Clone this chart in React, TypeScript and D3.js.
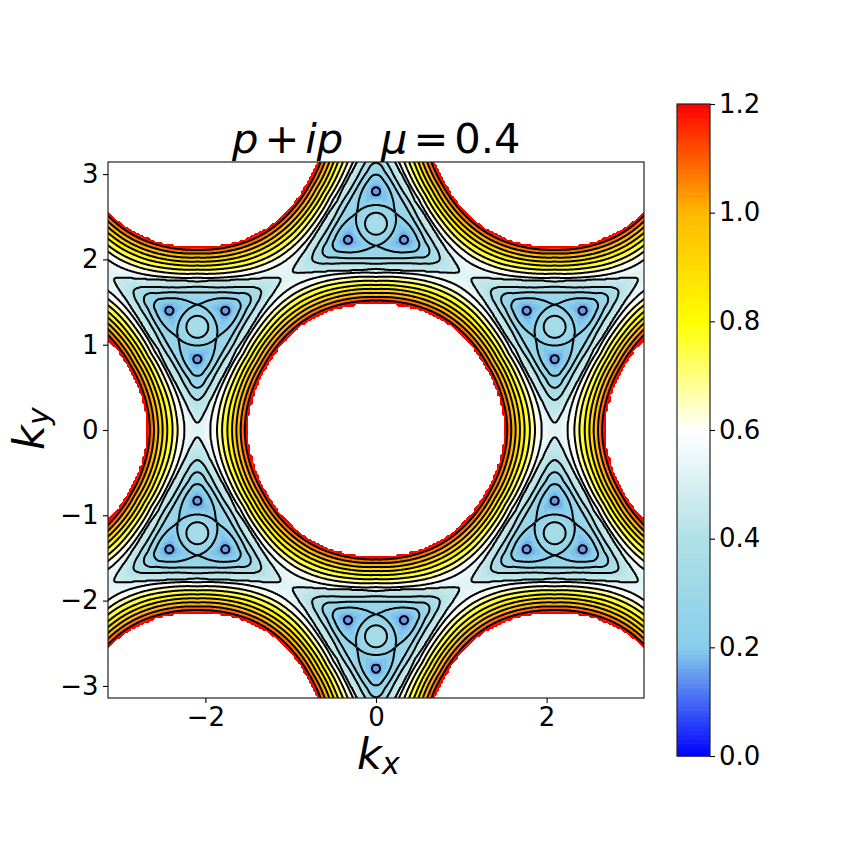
import React, { useEffect, useMemo, useRef } from 'react';
import * as d3 from 'd3';

// contour levels drawn in black
const contourLevels = [0.16, 0.24, 0.32, 0.4, 0.48, 0.56, 0.64, 0.72, 0.8, 0.88, 0.96, 1.04, 1.12];

// colour map stops
const colorStops = [0, 0.2, 0.4, 0.6, 0.8, 1.0, 1.2];
const colorNames = ['#0000ff', '#87ceeb', '#b0e0e6', '#ffffff', '#ffff00', '#ffb800', '#ff0000'];

// ticks
const xTicks = [-2, 0, 2];
const yTicks = [-3, -2, -1, 0, 1, 2, 3];
const barTicks = [0, 0.2, 0.4, 0.6, 0.8, 1.0, 1.2];

// level curves around a hole: k-radius read at each angle (deg from the M direction)
// the first row is the edge of the white hole, values above the colour range are masked
const maskLevel = 1.28;
const holeAngles = [0, 5, 10, 20, 30];
const holeLevels = [maskLevel, 1.2, 1.12, 1.04, 0.96, 0.88, 0.8, 0.72, 0.64, 0.56, 0.52];
const holeRadii = [
  [1.497, 1.496, 1.492, 1.482, 1.477],
  [1.512, 1.511, 1.507, 1.497, 1.49],
  [1.536, 1.535, 1.531, 1.522, 1.515],
  [1.586, 1.584, 1.58, 1.569, 1.559],
  [1.637, 1.634, 1.63, 1.618, 1.606],
  [1.687, 1.685, 1.68, 1.665, 1.653],
  [1.742, 1.739, 1.733, 1.712, 1.7],
  [1.804, 1.8, 1.791, 1.764, 1.747],
  [1.863, 1.857, 1.846, 1.815, 1.794],
  [1.941, 1.932, 1.911, 1.866, 1.841],
  [2.094, 2.022, 1.967, 1.895, 1.866],
];

// level curves around a pocket: k-distance from the pocket centre (deg from the M direction)
const pocketAngles = [0, 5, 10, 20, 30, 40, 50, 60];
const petalInner = [0.219, 0.219, 0.22, 0.223, 0.23, 0.239, 0.25, 0.26];
const petalOuter = [0.574, 0.561, 0.516, 0.44, 0.375, 0.322, 0.281, 0.26];
const pocketLevels = [0.24, 0.32, 0.4, 0.48];
const pocketRadii = [
  petalOuter,
  [0.715, 0.686, 0.615, 0.528, 0.467, 0.43, 0.41, 0.404],
  [0.856, 0.809, 0.727, 0.604, 0.533, 0.492, 0.475, 0.469],
  [1.125, 1.008, 0.879, 0.735, 0.645, 0.586, 0.547, 0.528],
];

// pocket details
const centerValue = 0.36;
const centerRing = 0.129;
const dotDistance = 0.379;
const dotRing = 0.047;
const dotValue = 0.14;

const W = 864;
const plot = { left: 108, right: 644, top: 162, bottom: 698 };
const bar = { left: 677, right: 710, top: 104, bottom: 756 };
const PI = Math.PI;
const ax = (4 * PI) / 3;
const ay = (4 * PI) / Math.sqrt(3);
const Kx = ax / 2;
const Ky = ay / 6;

const color = d3.scaleLinear<string>().domain(colorStops).range(colorNames).clamp(true);

// piecewise cubic through the read values, flat at the first angle
function curve(knots: number[], vals: number[]) {
  const n = knots.length;
  const m = vals.map((v, i) => {
    if (i === 0) return 0;
    if (i === n - 1) return (v - vals[i - 1]) / (knots[i] - knots[i - 1]);
    return (vals[i + 1] - vals[i - 1]) / (knots[i + 1] - knots[i - 1]);
  });
  return (a: number) => {
    const c = Math.max(knots[0], Math.min(knots[n - 1], a));
    let i = 0;
    while (i < n - 2 && c > knots[i + 1]) i++;
    const h = knots[i + 1] - knots[i];
    const t = (c - knots[i]) / h;
    const t2 = t * t;
    const t3 = t2 * t;
    return (2 * t3 - 3 * t2 + 1) * vals[i] + (t3 - 2 * t2 + t) * h * m[i] +
      (-2 * t3 + 3 * t2) * vals[i + 1] + (t3 - t2) * h * m[i + 1];
  };
}

const holeCurves = holeRadii.map((r) => curve(holeAngles, r));
const pocketCurves = pocketRadii.map((r) => curve(pocketAngles, r));
const innerCurve = curve(pocketAngles, petalInner);
const outerCurve = curve(pocketAngles, petalOuter);
const splitCurve = holeCurves[holeCurves.length - 1];
const splitLevel = holeLevels[holeLevels.length - 1];

// where the level through M meets each ray from the pocket centre
const splitByAngle = d3.range(0, 60.01, 0.25).map((deg) => {
  const a = (deg * PI) / 180;
  const end = Ky / Math.cos(a);
  for (let p = 0.05; p < end; p += 0.002) {
    const x = Kx - p * Math.sin(a);
    const y = Ky - p * Math.cos(a);
    if (Math.hypot(x, y) < splitCurve((Math.atan2(y, x) * 180) / PI)) return p;
  }
  return end;
});

function petalValue(rho: number, phi: number) {
  const a = (phi * PI) / 180;
  const dx = rho * Math.sin(a);
  const dy = rho * Math.cos(a) - dotDistance;
  const d = Math.hypot(dx, dy);
  if (d < dotRing) return dotValue + (0.16 - dotValue) * (d / dotRing) ** 2;
  const ux = dx / d;
  const uy = dy / d;
  let lo = d;
  let hi = 0.9;
  for (let i = 0; i < 11; i++) {
    const t = (lo + hi) / 2;
    const px = ux * t;
    const py = dotDistance + uy * t;
    const q = Math.hypot(px, py);
    const f = (Math.atan2(px, py) * 180) / PI;
    if (f <= 60 && q > innerCurve(f) && q < outerCurve(f)) lo = t;
    else hi = t;
  }
  const s = Math.min(1, (d - dotRing) / Math.max(1e-6, hi - dotRing));
  return 0.16 + 0.08 * s;
}

function field(kx: number, ky: number) {
  // fold into one triangle Gamma-M-K of the lattice
  let x = Math.abs(kx) % ax;
  let y = Math.abs(ky) % ay;
  if (x > ax / 2) x = ax - x;
  if (y > ay / 2) y = ay - y;
  if (x * x + y * y > (ax / 2 - x) ** 2 + (ay / 2 - y) ** 2) {
    x = ax / 2 - x;
    y = ay / 2 - y;
  }
  const r = Math.hypot(x, y);
  let th = (Math.atan2(y, x) * 180) / PI;
  if (th > 60) th -= 60;
  if (th > 30) th = 60 - th;

  const split = splitCurve(th);
  if (r < split) {
    let prevR = split;
    let prevV = splitLevel;
    for (let i = holeLevels.length - 2; i >= 0; i--) {
      const ring = holeCurves[i](th);
      if (r >= ring) return holeLevels[i] + ((prevV - holeLevels[i]) * (r - ring)) / (prevR - ring);
      prevR = ring;
      prevV = holeLevels[i];
    }
    return maskLevel + 0.1;
  }

  const t = (th * PI) / 180;
  const dx = r * Math.cos(t) - Kx;
  const dy = r * Math.sin(t) - Ky;
  const rho = Math.hypot(dx, dy);
  const phi = Math.max(0, Math.min(60, (Math.atan2(-dx, -dy) * 180) / PI));
  const inner = innerCurve(phi);
  if (rho <= inner) {
    if (rho < centerRing) return centerValue - (centerValue - 0.32) * (rho / centerRing) ** 2;
    return 0.32 - (0.08 * (rho - centerRing)) / (inner - centerRing);
  }
  const outer = outerCurve(phi);
  if (rho < outer) return petalValue(rho, phi);
  const end = splitByAngle[Math.round(phi * 4)];
  let prevR = outer;
  let prevV = 0.24;
  for (let i = 1; i <= pocketLevels.length; i++) {
    const ring = i < pocketLevels.length ? Math.min(pocketCurves[i](phi), end - 0.001) : Math.max(end, prevR + 0.001);
    const v = i < pocketLevels.length ? pocketLevels[i] : splitLevel;
    if (rho <= ring) return prevV + ((v - prevV) * (rho - prevR)) / (ring - prevR);
    prevR = ring;
    prevV = v;
  }
  return splitLevel;
}

function sample(n: number, lo: number, hi: number) {
  const values = new Float64Array(n * n);
  const step = (hi - lo) / n;
  for (let j = 0; j < n; j++) {
    const ky = hi - (j + 0.5) * step;
    for (let i = 0; i < n; i++) values[j * n + i] = field(lo + (i + 0.5) * step, ky);
  }
  return values;
}

export default function App() {
  const xAxisRef = useRef<SVGGElement>(null);
  const yAxisRef = useRef<SVGGElement>(null);
  const barAxisRef = useRef<SVGGElement>(null);

  const x = d3.scaleLinear().domain([-PI, PI]).range([plot.left, plot.right]);
  const y = d3.scaleLinear().domain([-PI, PI]).range([plot.bottom, plot.top]);
  const barY = d3.scaleLinear().domain([0, 1.2]).range([bar.bottom, bar.top]);

  const { fills, lines } = useMemo(() => {
    // coarse stepped grid for the colours, like the original mesh
    const nFill = 256;
    const fillValues = sample(nFill, -PI, PI);
    const fillCell = d3.scaleLinear().domain([0, nFill]).range([-PI, PI]);
    const fillPath = d3.geoPath(
      d3.geoTransform({
        point(px, py) {
          this.stream.point(+x(fillCell(px)).toFixed(1), +y(-fillCell(py)).toFixed(1));
        },
      })
    );
    const fillGen = d3.contours().size([nFill, nFill]).smooth(false);
    const bands = d3.range(0.12, 1.21, 0.02).map((t) => ({
      d: fillPath(fillGen.contour(fillValues as any, t)) || '',
      fill: color(t + 0.01),
    }));
    bands.push({ d: fillPath(fillGen.contour(fillValues as any, maskLevel)) || '', fill: '#ffffff' });

    // finer grid running past the frame for the black lines
    const margin = 0.12;
    const nLine = 620;
    const lineValues = sample(nLine, -PI - margin, PI + margin);
    const lineCell = d3.scaleLinear().domain([0, nLine]).range([-PI - margin, PI + margin]);
    const linePath = d3.geoPath(
      d3.geoTransform({
        point(px, py) {
          this.stream.point(+x(lineCell(px)).toFixed(2), +y(-lineCell(py)).toFixed(2));
        },
      })
    );
    const lineGen = d3.contours().size([nLine, nLine]);
    const paths = contourLevels.map((t) => linePath(lineGen.contour(lineValues as any, t)) || '');
    return { fills: bands, lines: paths };
  }, []);

  useEffect(() => {
    const style = (g: d3.Selection<any, any, any, any>) => {
      g.selectAll('text').attr('font-family', 'DejaVu Sans').attr('font-size', 26).attr('fill', '#000');
      g.selectAll('line').attr('stroke', '#000').attr('stroke-width', 1.1);
      g.select('.domain').remove();
    };
    d3.select(xAxisRef.current)
      .call(d3.axisBottom(x).tickValues(xTicks).tickSize(5).tickPadding(4.5).tickFormat(d3.format('d')) as any)
      .call(style);
    d3.select(yAxisRef.current)
      .call(d3.axisLeft(y).tickValues(yTicks).tickSize(5).tickPadding(4.5).tickFormat(d3.format('d')) as any)
      .call(style);
    d3.select(barAxisRef.current)
      .call(d3.axisRight(barY).tickValues(barTicks).tickSize(5).tickPadding(4).tickFormat(d3.format('.1f')) as any)
      .call(style);
  }, []);

  const barSteps = d3.range(0, 1.2, 1.2 / 256);

  return (
    <svg width={W} height={W} style={{ position: 'absolute', left: 0, top: 0, display: 'block', background: '#fff' }}>
      <defs>
        <clipPath id="plot-clip">
          <rect x={plot.left} y={plot.top} width={plot.right - plot.left} height={plot.bottom - plot.top} />
        </clipPath>
      </defs>

      <g clipPath="url(#plot-clip)">
        {fills.map((b, i) => (
          <path key={i} d={b.d} fill={b.fill} shapeRendering="crispEdges" />
        ))}
        {lines.map((d, i) => (
          <path key={i} d={d} fill="none" stroke="#000" strokeWidth={2} />
        ))}
      </g>
      <rect x={plot.left} y={plot.top} width={plot.right - plot.left} height={plot.bottom - plot.top}
        fill="none" stroke="#222" strokeWidth={1.2} />
      <g ref={xAxisRef} transform={`translate(0,${plot.bottom})`} />
      <g ref={yAxisRef} transform={`translate(${plot.left},0)`} />

      {barSteps.map((v, i) => (
        <rect key={i} x={bar.left} width={bar.right - bar.left} y={barY(v + 1.2 / 256)}
          height={barY(v) - barY(v + 1.2 / 256) + 0.6} fill={color(v + 0.6 / 256)} />
      ))}
      <rect x={bar.left} y={bar.top} width={bar.right - bar.left} height={bar.bottom - bar.top}
        fill="none" stroke="#222" strokeWidth={1.2} />
      <g ref={barAxisRef} transform={`translate(${bar.right},0)`} />

      <text y={153} fontFamily="DejaVu Sans" fontSize={41.6} fill="#000">
        <tspan x={232} fontStyle="italic">p</tspan>
        <tspan dx={6}>+</tspan>
        <tspan dx={6} fontStyle="italic">ip</tspan>
        <tspan x={381} fontStyle="italic">μ</tspan>
        <tspan dx={6}>=</tspan>
        <tspan dx={6}>0.4</tspan>
      </text>
      <text x={357} y={769} fontFamily="DejaVu Sans" fontSize={43} fontStyle="italic" fill="#000">
        k<tspan fontSize={30} dy={5}>x</tspan>
      </text>
      <text transform="translate(44,450) rotate(-90)" fontFamily="DejaVu Sans" fontSize={43} fontStyle="italic" fill="#000">
        k<tspan fontSize={30} dy={5}>y</tspan>
      </text>
    </svg>
  );
}
